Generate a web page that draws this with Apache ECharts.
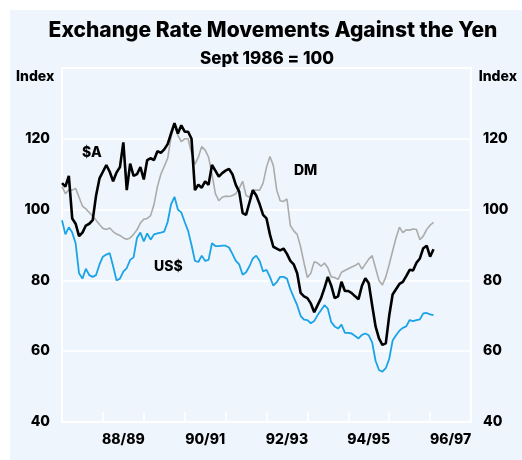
<!DOCTYPE html>
<html>
<head>
<meta charset="utf-8">
<script src="https://cdn.jsdelivr.net/npm/echarts@6/dist/echarts.min.js"></script>
<style>
html,body{margin:0;padding:0;background:#fff;}
#chart{width:522px;height:460px;}
</style>
</head>
<body>
<div id="chart"></div>
<script>
// Monthly index values, first value = July 1987 (Sept 1986 = 100)
var audValues = [107.5,106.5,109.5,97.5,96,92.5,93.5,95.5,96,97,104,108.8,110.7,112.6,110.7,108,110.5,112,119,105.5,
  113,109.5,110,112,108.5,114,114.5,114,116.5,116,117,118.5,121.5,124.4,121.5,123.8,122,122,120,105.5,
  107,106.2,108,107,112.6,111,109.3,110.3,111,111.5,110,107,105,99,98.5,102,105.5,104,101.5,98.5,
  97.5,93,89.5,89,88.5,89,87.5,85.5,84.5,82,76.5,75.5,75,73.5,71,73,75,77.8,81,78.5,
  75,75.5,79.6,77,77,76.4,75.5,74.7,78.5,80.6,79.2,73,67,63.6,61.8,62.2,70,76,77.5,79,
  79.6,81.2,83,82.8,85,86.2,89.1,89.8,86.7,88.8];
var dmValues = [106.5,104.5,105.5,105.5,106,103.5,101,100.2,99.2,98.2,97,95.8,94.7,94.4,94.8,93.8,93.1,92.7,92,91.6,
  92,93,94.3,96.2,97.3,97.5,98.3,101.5,106.5,110,112.2,114.5,120.5,124.3,121,119.2,120,120,116,112.8,
  114.8,117.8,116.8,114.8,110,104.5,102.5,103.5,103.8,103.7,104,104.5,106,108,104,103.5,105.5,105.5,105.5,107.5,
  112,115,112.5,105.5,102.5,102.3,103,95.5,94,93,89.5,85,80.8,82,85.3,84.9,84,84.9,83.6,81,
  80.8,80.3,82.3,82.8,83.3,83.8,84.2,84.9,83.2,84.6,86,87,83.5,80,78.7,81,84.5,88.3,92,95,
  93.5,94.3,94.2,94.5,94.4,91.5,92.5,94.4,95.6,96.4];
var usdValues = [97,93,95,93.5,90.5,82,80.5,83.3,81.5,81,81.5,84.5,86.7,87.3,87.7,84,80,80.5,82.5,83.5,
  85.8,86.5,92,93.5,91,93.3,91.5,93,93.3,93.5,93.8,96.5,101.5,103.6,100,99.2,96.5,94,90,85.5,
  85.2,87,85.5,85.8,90.5,89.7,89.7,89.8,89.8,89.3,87.5,85.5,84.5,81.6,82.3,84,86.2,87,85.5,82.5,
  83,81,78.5,79.5,81,81,80.5,77.5,75.2,73,70,68.9,68.8,67.9,68.5,70.2,71.6,73,72,68.2,
  67,66.4,67.5,65.2,65.2,65,64.3,63.6,64.6,65,64.5,62.5,57.3,54.7,54.2,55.2,57.8,63,64.5,65.8,
  66.6,67,68.8,68.5,68.8,69,70.7,70.8,70.4,70.2];
var fiscalYearLabels = ['88/89','90/91','92/93','94/95','96/97'];
var yTickValues = [40,60,80,100,120];
var seriesNames = ['$A','US$','DM'];

function toPairs(arr){ return arr.map(function(v,i){ return [i, v]; }); }
// Month index of the middle of each labelled financial year (July 1987 = 0)
var labelMonth = {};
fiscalYearLabels.forEach(function(l){
  var y = parseInt(l.slice(0,2),10);
  labelMonth[(y-87)*12+6] = l;
});

var FONT = 'Inter, "Liberation Sans", Arial, sans-serif';
var W = '800';
var chart = echarts.init(document.getElementById('chart'), null, {renderer:'canvas'});
var yLabelFmt = function(v){ return yTickValues.indexOf(v) >= 0 ? String(v) : ''; };
var option = {
  animation: false,
  backgroundColor: '#ffffff',
  graphic: [
    {type:'rect', z:-100, silent:true, shape:{x:10, y:10, width:512, height:450}, style:{fill:'#eef5fc'}},
    {type:'text', x:273, y:31, style:{text:'Exchange Rate Movements Against the Yen', font:W+' 21px '+FONT, fill:'#000', textAlign:'center', textVerticalAlign:'middle'}},
    {type:'text', x:267, y:59, style:{text:'Sept 1986 = 100', font:W+' 17px '+FONT, fill:'#000', textAlign:'center', textVerticalAlign:'middle'}},
    {type:'text', left:16, top:70, style:{text:'Index', font:W+' 14px '+FONT, fill:'#000'}},
    {type:'text', right:5, top:70, style:{text:'Index', font:W+' 14px '+FONT, fill:'#000'}},
    {type:'text', left:82, top:146, style:{text:seriesNames[0], font:W+' 14px '+FONT, fill:'#000'}},
    {type:'text', left:154, top:260, style:{text:seriesNames[1], font:W+' 14px '+FONT, fill:'#000'}},
    {type:'text', left:294, top:164, style:{text:seriesNames[2], font:W+' 14px '+FONT, fill:'#000'}}
  ],
  grid: {left:62, right:51, top:68, bottom:38, show:true, borderColor:'#ffffff', borderWidth:2, backgroundColor:'transparent'},
  xAxis: [
    {type:'value', min:0, max:120, interval:12, position:'bottom',
     axisLine:{show:true, lineStyle:{color:'#ffffff', width:2}},
     axisTick:{show:true, inside:true, length:10, lineStyle:{color:'#ffffff', width:1.5}},
     axisLabel:{show:false}, splitLine:{show:false}},
    {type:'value', min:0, max:120, interval:6, position:'bottom',
     axisLine:{show:false}, axisTick:{show:false}, splitLine:{show:false},
     axisLabel:{show:true, margin:11, fontFamily:FONT, fontSize:14, fontWeight:W, color:'#000',
       formatter:function(v){ return labelMonth[v] || ''; }}}
  ],
  yAxis: [
    {type:'value', min:40, max:140, interval:20, position:'left',
     axisLine:{show:false}, axisTick:{show:false},
     axisLabel:{margin:12, fontFamily:FONT, fontSize:14, fontWeight:W, color:'#000', formatter:yLabelFmt},
     splitLine:{show:true, lineStyle:{color:'#ffffff', width:1.5}}},
    {type:'value', min:40, max:140, interval:20, position:'right',
     axisLine:{show:false}, axisTick:{show:false},
     axisLabel:{margin:12, fontFamily:FONT, fontSize:14, fontWeight:W, color:'#000', formatter:yLabelFmt},
     splitLine:{show:false}}
  ],
  series: [
    {name:seriesNames[2], type:'line', data:toPairs(dmValues), showSymbol:false, z:2,
     lineStyle:{color:'#ababab', width:1.6}},
    {name:seriesNames[1], type:'line', data:toPairs(usdValues), showSymbol:false, z:3,
     lineStyle:{color:'#1aa3e6', width:1.8}},
    {name:seriesNames[0], type:'line', data:toPairs(audValues), showSymbol:false, z:4,
     lineStyle:{color:'#000000', width:2.6}}
  ]
};
chart.setOption(option);
</script>
</body>
</html>
